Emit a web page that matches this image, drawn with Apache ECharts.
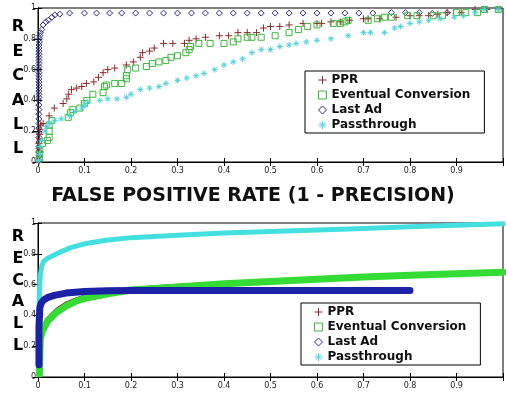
<!DOCTYPE html>
<html>
<head>
<meta charset="utf-8">
<script src="https://cdn.jsdelivr.net/npm/echarts@6/dist/echarts.min.js"></script>
<style>
  html, body { margin: 0; padding: 0; background: #fff; }
  #chart { width: 506px; height: 394px; }
</style>
</head>
<body>
<div id="chart"></div>
<script>
// tick values
const xTicks = [0, 0.1, 0.2, 0.3, 0.4, 0.5, 0.6, 0.7, 0.8, 0.9, 1]
const yTicks = [0, 0.2, 0.4, 0.6, 0.8, 1]
const seriesNames = ['PPR', 'Eventual Conversion', 'Last Ad', 'Passthrough']

// top panel: [false positive rate, recall]
const pprTop = [
  [0.002, 0], [0.002, 0.03], [0.002, 0.06], [0.002, 0.09], [0.002, 0.12], [0.003, 0.15],
  [0.003, 0.18], [0.004, 0.21], [0.006, 0.24], [0.011, 0.25], [0.024, 0.30], [0.035, 0.35],
  [0.054, 0.38], [0.062, 0.41], [0.066, 0.44], [0.072, 0.47], [0.083, 0.48], [0.094, 0.49],
  [0.104, 0.51], [0.12, 0.52], [0.13, 0.55], [0.14, 0.58], [0.15, 0.60], [0.165, 0.61],
  [0.19, 0.63], [0.205, 0.65], [0.22, 0.68], [0.225, 0.71], [0.24, 0.72], [0.25, 0.74],
  [0.27, 0.77], [0.29, 0.77], [0.315, 0.77], [0.325, 0.79], [0.34, 0.80], [0.36, 0.81],
  [0.39, 0.82], [0.41, 0.82], [0.43, 0.84], [0.45, 0.84], [0.47, 0.84], [0.485, 0.87],
  [0.50, 0.88], [0.52, 0.88], [0.54, 0.89], [0.57, 0.90], [0.60, 0.90], [0.61, 0.90],
  [0.63, 0.91], [0.65, 0.91], [0.67, 0.92], [0.70, 0.93], [0.71, 0.93], [0.735, 0.93],
  [0.77, 0.94], [0.80, 0.95], [0.82, 0.95], [0.84, 0.95], [0.86, 0.96], [0.88, 0.97],
  [0.91, 0.97], [0.94, 0.99], [0.965, 0.99], [0.99, 0.99]
]
const convTop = [
  [0.003, 0.02], [0.004, 0.05], [0.004, 0.08], [0.01, 0.12], [0.02, 0.14], [0.024, 0.16],
  [0.024, 0.20], [0.024, 0.24], [0.03, 0.27], [0.065, 0.29], [0.07, 0.32], [0.075, 0.34],
  [0.09, 0.35], [0.10, 0.38], [0.105, 0.40], [0.118, 0.44], [0.14, 0.45], [0.143, 0.49],
  [0.147, 0.50], [0.165, 0.51], [0.18, 0.51], [0.19, 0.54], [0.19, 0.56], [0.193, 0.60],
  [0.21, 0.61], [0.233, 0.62], [0.246, 0.64], [0.26, 0.65], [0.275, 0.66], [0.286, 0.68],
  [0.30, 0.69], [0.318, 0.71], [0.325, 0.73], [0.328, 0.75], [0.346, 0.77], [0.37, 0.77],
  [0.40, 0.77], [0.42, 0.78], [0.43, 0.80], [0.45, 0.81], [0.46, 0.81], [0.48, 0.81],
  [0.51, 0.82], [0.54, 0.84], [0.56, 0.86], [0.58, 0.88], [0.60, 0.89], [0.635, 0.90],
  [0.65, 0.90], [0.66, 0.91], [0.667, 0.92], [0.71, 0.92], [0.73, 0.93], [0.745, 0.94],
  [0.76, 0.94], [0.795, 0.95], [0.815, 0.95], [0.85, 0.95], [0.87, 0.95], [0.90, 0.97],
  [0.92, 0.97], [0.945, 0.97], [0.96, 0.99], [0.99, 0.99]
]
const lastAdTop = [
  [0.002, 0.01], [0.002, 0.04], [0.002, 0.07], [0.002, 0.10], [0.002, 0.13], [0.002, 0.16],
  [0.002, 0.19], [0.002, 0.22], [0.002, 0.25], [0.002, 0.28], [0.002, 0.31], [0.002, 0.34],
  [0.002, 0.37], [0.002, 0.40], [0.002, 0.42], [0.002, 0.44], [0.002, 0.46], [0.002, 0.48],
  [0.002, 0.50], [0.002, 0.52], [0.002, 0.54], [0.002, 0.56], [0.002, 0.58], [0.002, 0.60],
  [0.002, 0.62], [0.002, 0.64], [0.002, 0.66], [0.002, 0.68], [0.002, 0.70], [0.002, 0.72],
  [0.002, 0.74], [0.002, 0.76], [0.003, 0.78], [0.003, 0.80], [0.004, 0.82], [0.005, 0.84],
  [0.008, 0.86], [0.011, 0.89], [0.017, 0.91], [0.022, 0.92], [0.03, 0.94], [0.036, 0.955],
  [0.047, 0.96], [0.068, 0.967], [0.10, 0.967], [0.126, 0.967], [0.154, 0.967], [0.18, 0.967],
  [0.21, 0.967], [0.24, 0.967], [0.27, 0.967], [0.30, 0.967], [0.33, 0.967], [0.36, 0.967],
  [0.39, 0.967], [0.42, 0.967], [0.45, 0.967], [0.48, 0.967], [0.51, 0.967], [0.54, 0.967],
  [0.57, 0.967], [0.60, 0.967], [0.63, 0.967], [0.66, 0.967], [0.69, 0.967], [0.72, 0.967],
  [0.76, 0.97], [0.79, 0.97], [0.82, 0.97], [0.848, 0.965], [0.88, 0.97]
]
const passTop = [
  [0.001, 0.01], [0.003, 0.05], [0.005, 0.10], [0.008, 0.14], [0.015, 0.20], [0.018, 0.23],
  [0.025, 0.25], [0.036, 0.27], [0.05, 0.28], [0.068, 0.30], [0.08, 0.33], [0.094, 0.35],
  [0.10, 0.37], [0.107, 0.39], [0.133, 0.40], [0.15, 0.41], [0.17, 0.41], [0.19, 0.42],
  [0.20, 0.44], [0.22, 0.47], [0.24, 0.48], [0.26, 0.49], [0.275, 0.51], [0.30, 0.53],
  [0.32, 0.545], [0.34, 0.56], [0.357, 0.575], [0.38, 0.60], [0.40, 0.63], [0.42, 0.65],
  [0.44, 0.67], [0.46, 0.71], [0.48, 0.73], [0.50, 0.73], [0.52, 0.75], [0.54, 0.76],
  [0.555, 0.77], [0.577, 0.78], [0.60, 0.79], [0.63, 0.80], [0.667, 0.82], [0.70, 0.84],
  [0.715, 0.84], [0.745, 0.84], [0.767, 0.87], [0.78, 0.88], [0.80, 0.90], [0.82, 0.91],
  [0.84, 0.92], [0.865, 0.93], [0.895, 0.94], [0.915, 0.95], [0.94, 0.97], [0.96, 0.99],
  [0.99, 0.99]
]

// bottom panel
const pprBottom = [
  [0.004, 0.27], [0.01, 0.32], [0.02, 0.38], [0.04, 0.44], [0.06, 0.48], [0.08, 0.505],
  [0.1, 0.525], [0.15, 0.55], [0.2, 0.575], [0.3, 0.595], [0.4, 0.612], [0.5, 0.627],
  [0.6, 0.642], [0.7, 0.656], [0.8, 0.666], [0.9, 0.676], [1.0, 0.686]
]
const convBottom = [
  [0.003, 0.02], [0.004, 0.15], [0.005, 0.25], [0.01, 0.30], [0.02, 0.36], [0.04, 0.42],
  [0.06, 0.46], [0.08, 0.49], [0.1, 0.51], [0.15, 0.54], [0.2, 0.565], [0.3, 0.585],
  [0.4, 0.605], [0.5, 0.62], [0.6, 0.635], [0.7, 0.65], [0.8, 0.66], [0.9, 0.67], [1.0, 0.68]
]
const lastAdBottom = [
  [0.002, 0.08], [0.002, 0.32], [0.004, 0.45], [0.007, 0.48], [0.012, 0.50], [0.02, 0.515],
  [0.035, 0.53], [0.06, 0.545], [0.1, 0.555], [0.15, 0.56], [0.2, 0.562], [0.4, 0.562],
  [0.6, 0.562], [0.8, 0.562]
]
const passBottom = [
  [0.002, 0.38], [0.003, 0.55], [0.005, 0.66], [0.008, 0.72], [0.012, 0.75], [0.02, 0.77],
  [0.04, 0.80], [0.07, 0.84], [0.1, 0.865], [0.15, 0.89], [0.2, 0.905], [0.3, 0.92],
  [0.4, 0.935], [0.5, 0.945], [0.6, 0.955], [0.7, 0.965], [0.8, 0.975], [0.9, 0.985], [1.0, 0.995]
]

const colors = { ppr: '#8e2a2a', conv: '#3cb83c', lastAd: '#2c2c80', pass: '#4fd3dc' }
const lineColors = { ppr: '#7a2020', conv: '#35dc35', lastAd: '#1c22a6', pass: '#44e0e0' }
const plusIcon = 'path://M5,0L5,10M0,5L10,5'
const starIcon = 'path://M5,0L5,10M0,5L10,5M1.5,1.5L8.5,8.5M1.5,8.5L8.5,1.5'

const fontFamily = '"DejaVu Sans", sans-serif'
const tickLabel = { fontSize: 8, color: '#222', fontFamily: fontFamily }

function bottomAxis(gridIndex) {
  return {
    gridIndex: gridIndex, type: 'value', min: 0, max: 1, interval: 0.1,
    axisLine: { show: true, lineStyle: { color: '#000', width: 1 } },
    axisTick: { show: true, inside: true, length: 4, lineStyle: { color: '#000' } },
    axisLabel: Object.assign({ margin: 5, formatter: v => (v >= 1 ? '' : String(+v.toFixed(1))) }, tickLabel),
    splitLine: { show: false }
  }
}
function topAxis(gridIndex) {
  return {
    gridIndex: gridIndex, type: 'value', position: 'top', min: 0, max: 1, interval: 0.1,
    axisLine: { show: true, lineStyle: { color: '#000', width: 1 } },
    axisTick: { show: true, inside: true, length: 4, lineStyle: { color: '#000' } },
    axisLabel: { show: false }, splitLine: { show: false }
  }
}
function leftAxis(gridIndex) {
  return {
    gridIndex: gridIndex, type: 'value', min: 0, max: 1, interval: 0.2,
    axisLine: { show: true, lineStyle: { color: '#000', width: 1 } },
    axisTick: { show: true, inside: true, length: 4, lineStyle: { color: '#000' } },
    axisLabel: Object.assign({ margin: 2, formatter: v => String(+v.toFixed(1)) }, tickLabel),
    splitLine: { show: false }
  }
}
function rightAxis(gridIndex) {
  return {
    gridIndex: gridIndex, type: 'value', position: 'right', min: 0, max: 1, interval: 0.2,
    axisLine: { show: true, lineStyle: { color: '#000', width: 1 } },
    axisTick: { show: true, inside: true, length: 5, lineStyle: { color: '#000' } },
    axisLabel: { show: false }, splitLine: { show: false }
  }
}

function legendFor(left, top) {
  return {
    orient: 'vertical', left: left, top: top,
    backgroundColor: '#fff', borderColor: '#000', borderWidth: 1,
    padding: [2, 14, 1, 11], itemGap: 1, itemWidth: 8, itemHeight: 8, itemTextGap: 8,
    textStyle: { fontFamily: fontFamily, fontSize: 12, fontWeight: 'bold', color: '#111', lineHeight: 14 },
    selectedMode: false,
    data: [
      { name: 'PPR', icon: plusIcon, itemStyle: { color: 'none', borderColor: colors.ppr, borderWidth: 1 } },
      { name: 'Eventual Conversion', icon: 'rect', itemStyle: { color: 'none', borderColor: colors.conv, borderWidth: 1 } },
      { name: 'Last Ad', icon: 'diamond', itemStyle: { color: 'none', borderColor: colors.lastAd, borderWidth: 1 } },
      { name: 'Passthrough', icon: starIcon, itemStyle: { color: 'none', borderColor: colors.pass, borderWidth: 1 } }
    ]
  }
}

function scatter(name, data, symbol, size, color) {
  return {
    name: name, type: 'scatter', xAxisIndex: 0, yAxisIndex: 0, data: data,
    symbol: symbol, symbolSize: size, silent: true,
    itemStyle: { color: 'none', borderColor: color, borderWidth: 1, opacity: 1 }
  }
}
function line(name, data, color, width, z) {
  return {
    name: name, type: 'line', xAxisIndex: 2, yAxisIndex: 2, data: data,
    showSymbol: false, symbol: 'none', smooth: false, silent: true, z: z,
    lineStyle: { color: color, width: width, cap: 'round', join: 'round' },
    itemStyle: { color: color }
  }
}

const chart = echarts.init(document.getElementById('chart'), null, { renderer: 'canvas' })
chart.setOption({
  animation: false,
  backgroundColor: '#fff',
  grid: [
    { left: 38, top: 8, right: 0, height: 154, show: true, borderColor: '#000', borderWidth: 1 },
    { left: 38, top: 223, right: 0, height: 154, show: true, borderColor: '#000', borderWidth: 1 }
  ],
  xAxis: [bottomAxis(0), topAxis(0), bottomAxis(1), topAxis(1)],
  yAxis: [leftAxis(0), rightAxis(0), leftAxis(1), rightAxis(1)],
  legend: [legendFor(305, 71), legendFor(301, 303)],
  series: [
    scatter('Last Ad', lastAdTop, 'diamond', 6, colors.lastAd),
    scatter('PPR', pprTop, plusIcon, 7, colors.ppr),
    scatter('Eventual Conversion', convTop, 'rect', 6, colors.conv),
    scatter('Passthrough', passTop, starIcon, 6, colors.pass),
    line('PPR', pprBottom, lineColors.ppr, 3, 2),
    line('Eventual Conversion', convBottom, lineColors.conv, 7, 3),
    line('Passthrough', passBottom, lineColors.pass, 5, 4),
    line('Last Ad', lastAdBottom, lineColors.lastAd, 7, 5)
  ],
  graphic: [
    {
      type: 'text', x: 253, y: 196,
      style: { text: 'FALSE POSITIVE RATE (1 - PRECISION)', font: 'bold 19px "DejaVu Sans"', fill: '#111', align: 'center', verticalAlign: 'middle' }
    },
    {
      type: 'text', x: 18, y: 15,
      style: { text: 'R\nE\nC\nA\nL\nL', font: 'bold 16px "DejaVu Sans"', lineHeight: 24.4, fill: '#000', align: 'center', verticalAlign: 'top' }
    },
    {
      type: 'text', x: 18, y: 226,
      style: { text: 'R\nE\nC\nA\nL\nL', font: 'bold 16px "DejaVu Sans"', lineHeight: 21.8, fill: '#000', align: 'center', verticalAlign: 'top' }
    }
  ]
})
</script>
</body>
</html>
